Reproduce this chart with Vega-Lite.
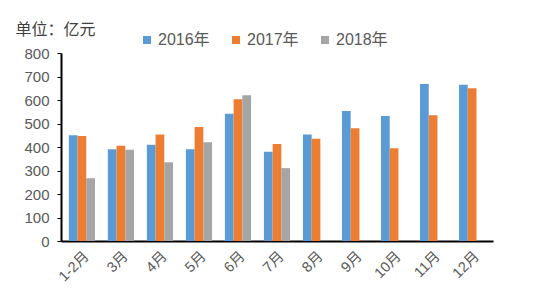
{
  "$schema": "https://vega.github.io/schema/vega-lite/v6.json",
  "width": 432,
  "height": 188,
  "autosize": {"type": "none"},
  "padding": {"left": 61, "top": 53, "right": 57, "bottom": 59},
  "background": "white",
  "config": {
    "view": {"stroke": null},
    "font": "Liberation Sans, Noto Sans CJK SC",
    "axis": {"labelColor": "#595959", "titleColor": "#404040", "labelFont": "Liberation Sans, Noto Sans CJK SC", "titleFont": "Noto Sans CJK SC"},
    "legend": {"labelFont": "Liberation Sans, Noto Sans CJK SC"}
  },
  "data": {
    "values": [
      {"month": "1-2月", "year": "2016年", "value": 450},
      {"month": "1-2月", "year": "2017年", "value": 447},
      {"month": "1-2月", "year": "2018年", "value": 267},
      {"month": "3月", "year": "2016年", "value": 390},
      {"month": "3月", "year": "2017年", "value": 405},
      {"month": "3月", "year": "2018年", "value": 388},
      {"month": "4月", "year": "2016年", "value": 410},
      {"month": "4月", "year": "2017年", "value": 453},
      {"month": "4月", "year": "2018年", "value": 335},
      {"month": "5月", "year": "2016年", "value": 390},
      {"month": "5月", "year": "2017年", "value": 485},
      {"month": "5月", "year": "2018年", "value": 420},
      {"month": "6月", "year": "2016年", "value": 542},
      {"month": "6月", "year": "2017年", "value": 603},
      {"month": "6月", "year": "2018年", "value": 620},
      {"month": "7月", "year": "2016年", "value": 380},
      {"month": "7月", "year": "2017年", "value": 413},
      {"month": "7月", "year": "2018年", "value": 310},
      {"month": "8月", "year": "2016年", "value": 453},
      {"month": "8月", "year": "2017年", "value": 435},
      {"month": "9月", "year": "2016年", "value": 553},
      {"month": "9月", "year": "2017年", "value": 480},
      {"month": "10月", "year": "2016年", "value": 532},
      {"month": "10月", "year": "2017年", "value": 395},
      {"month": "11月", "year": "2016年", "value": 668},
      {"month": "11月", "year": "2017年", "value": 535},
      {"month": "12月", "year": "2016年", "value": 665},
      {"month": "12月", "year": "2017年", "value": 650}
    ]
  },
  "mark": {"type": "bar"},
  "encoding": {
    "x": {
      "field": "month", "type": "nominal", "sort": null,
      "scale": {"paddingInner": 0.33, "paddingOuter": 0.2},
      "axis": {
        "title": null, "labelAngle": -45, "labelFontSize": 14.5, "labelPadding": 8,
        "ticks": false, "domainColor": "#000000", "domainWidth": 2
      }
    },
    "xOffset": {"field": "year", "type": "nominal", "scale": {"domain": ["2016年", "2017年", "2018年"], "paddingInner": 0, "paddingOuter": 0}},
    "y": {
      "field": "value", "type": "quantitative",
      "scale": {"domain": [0, 800]},
      "axis": {
        "title": "单位：亿元", "titleAngle": 0, "titleAlign": "left", "titleBaseline": "middle",
        "titleX": -46, "titleY": -24, "titleFontSize": 16, "titleFontWeight": "normal",
        "values": [0, 100, 200, 300, 400, 500, 600, 700, 800],
        "labelFontSize": 15, "labelPadding": 8, "tickSize": 4, "tickColor": "#000000",
        "domainColor": "#000000", "domainWidth": 2, "grid": false
      }
    },
    "color": {
      "field": "year", "type": "nominal",
      "scale": {"domain": ["2016年", "2017年", "2018年"], "range": ["#5B9BD5", "#ED7D31", "#A5A5A5"]},
      "legend": {
        "title": null, "orient": "none", "direction": "horizontal", "legendX": 78, "legendY": -21,
        "symbolType": "square", "symbolSize": 64, "symbolStrokeWidth": 0,
        "labelFontSize": 16, "labelColor": "#595959", "labelOffset": 3, "columnPadding": 18
      }
    }
  }
}
